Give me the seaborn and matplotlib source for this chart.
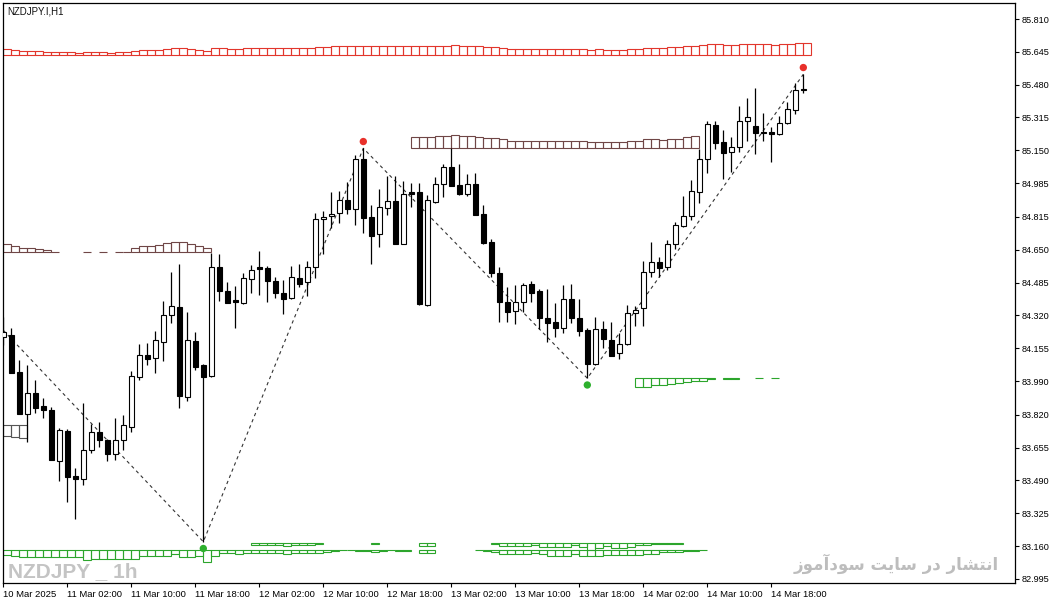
import numpy as np
import matplotlib
matplotlib.use("Agg")
import matplotlib.pyplot as plt
from matplotlib.patches import Rectangle
import seaborn as sns

# NZDJPY H1 candles, 10 Mar 18:00 .. 14 Mar 22:00
opens = [84.212, 84.222, 84.034, 83.826, 83.929, 83.865, 83.845, 83.590, 83.741, 83.513,
         83.499, 83.643, 83.732, 83.694, 83.625, 83.694, 83.761, 84.012, 84.121, 84.104,
         84.188, 84.322, 84.364, 83.911, 84.191, 84.071, 84.015, 84.565, 84.443, 84.398,
         84.384, 84.505, 84.565, 84.558, 84.493, 84.433, 84.409, 84.508, 84.486, 84.562,
         84.803, 84.818, 84.833, 84.900, 84.853, 85.105, 84.813, 84.728, 84.861, 84.895,
         84.680, 84.940, 84.940, 84.371, 84.892, 84.979, 85.065, 84.976, 84.929, 84.981,
         84.830, 84.689, 84.532, 84.386, 84.344, 84.386, 84.478, 84.443, 84.306, 84.287,
         84.255, 84.401, 84.306, 84.247, 84.076, 84.250, 84.196, 84.130, 84.175, 84.331,
         84.356, 84.537, 84.587, 84.562, 84.678, 84.771, 84.821, 84.942, 85.105, 85.277,
         85.190, 85.140, 85.165, 85.297, 85.272, 85.242, 85.242, 85.230, 85.286, 85.351,
         85.457]
highs = [84.314, 84.255, 84.096, 84.071, 83.995, 83.903, 83.858, 83.753, 83.749, 83.551,
         83.878, 83.774, 83.786, 83.699, 83.803, 83.819, 84.041, 84.176, 84.180, 84.243,
         84.392, 84.537, 84.578, 84.339, 84.238, 84.076, 84.632, 84.629, 84.488, 84.468,
         84.532, 84.573, 84.644, 84.570, 84.515, 84.498, 84.570, 84.578, 84.594, 84.833,
         84.846, 84.942, 84.945, 84.989, 85.126, 85.160, 84.873, 84.954, 85.021, 85.021,
         84.996, 84.987, 84.984, 84.925, 85.017, 85.080, 85.160, 85.081, 85.029, 85.034,
         84.875, 84.703, 84.562, 84.461, 84.473, 84.481, 84.493, 84.453, 84.453, 84.384,
         84.473, 84.478, 84.402, 84.258, 84.310, 84.292, 84.285, 84.230, 84.372, 84.369,
         84.594, 84.688, 84.614, 84.699, 84.791, 84.922, 85.001, 85.155, 85.297, 85.297,
         85.252, 85.218, 85.373, 85.414, 85.465, 85.336, 85.269, 85.322, 85.391, 85.487,
         85.532]
lows = [84.171, 84.030, 83.822, 83.685, 83.831, 83.806, 83.591, 83.489, 83.384, 83.298,
        83.468, 83.630, 83.657, 83.590, 83.593, 83.643, 83.735, 83.995, 84.071, 84.029,
        84.092, 84.280, 83.853, 83.891, 84.046, 83.182, 84.009, 84.394, 84.381, 84.258,
        84.377, 84.434, 84.423, 84.389, 84.406, 84.326, 84.401, 84.464, 84.419, 84.507,
        84.629, 84.758, 84.786, 84.830, 84.775, 84.736, 84.580, 84.665, 84.825, 84.679,
        84.677, 84.866, 84.373, 84.368, 84.887, 84.917, 84.970, 84.926, 84.922, 84.824,
        84.677, 84.515, 84.288, 84.288, 84.275, 84.339, 84.389, 84.250, 84.185, 84.210,
        84.230, 84.283, 84.216, 84.004, 84.071, 84.155, 84.115, 84.101, 84.169, 84.268,
        84.268, 84.515, 84.515, 84.548, 84.654, 84.766, 84.800, 84.887, 85.037, 85.155,
        85.004, 85.042, 85.143, 85.198, 85.131, 85.198, 85.093, 85.228, 85.283, 85.331,
        85.437]
closes = [84.237, 84.032, 83.826, 83.929, 83.853, 83.845, 83.593, 83.744, 83.509, 83.499,
          83.643, 83.732, 83.694, 83.625, 83.694, 83.769, 84.015, 84.121, 84.102, 84.196,
          84.322, 84.367, 83.915, 84.196, 84.062, 84.009, 84.565, 84.443, 84.384, 84.387,
          84.508, 84.547, 84.555, 84.494, 84.434, 84.404, 84.513, 84.479, 84.563, 84.803,
          84.813, 84.830, 84.900, 84.856, 85.105, 84.811, 84.721, 84.863, 84.895, 84.680,
          84.929, 84.932, 84.376, 84.899, 84.979, 85.065, 84.972, 84.929, 84.981, 84.826,
          84.686, 84.532, 84.389, 84.339, 84.386, 84.473, 84.434, 84.309, 84.283, 84.258,
          84.401, 84.306, 84.243, 84.076, 84.250, 84.200, 84.117, 84.175, 84.331, 84.346,
          84.537, 84.587, 84.560, 84.678, 84.775, 84.818, 84.945, 85.105, 85.282, 85.188,
          85.138, 85.165, 85.297, 85.317, 85.238, 85.239, 85.230, 85.286, 85.358, 85.452,
          85.452]

x_labels = ["10 Mar 2025", "11 Mar 02:00", "11 Mar 10:00", "11 Mar 18:00", "12 Mar 02:00",
            "12 Mar 10:00", "12 Mar 18:00", "13 Mar 02:00", "13 Mar 10:00", "13 Mar 18:00",
            "14 Mar 02:00", "14 Mar 10:00", "14 Mar 18:00"]
y_labels = ["85.810", "85.645", "85.480", "85.315", "85.150", "84.985", "84.815", "84.650",
            "84.485", "84.320", "84.155", "83.990", "83.820", "83.655", "83.490", "83.325",
            "83.160", "82.995"]

# zigzag
zz_idx = [0, 25, 45, 73, 100]
zz_price = [84.245, 83.182, 85.160, 84.004, 85.532]
tops_idx, tops_price = [45, 100], [85.160, 85.532]
bots_idx, bots_price = [25, 73], [83.182, 84.004]

# level profiles: counts per hour slot (None = empty, 0 = bare line)
red_start, red_base = 0, 85.629
red_counts = [5.7, 5, 4, 4, 4, 3, 3, 3, 3, 2, 3, 3, 3, 2, 3, 3, 4, 5, 5, 5,
              6, 7, 7, 6, 5, 4, 7, 7, 6, 6, 7, 7, 7, 7, 7, 7, 7, 7, 7, 8,
              8, 9, 9, 9, 9, 9, 9, 9, 9, 9, 9, 9, 9, 9, 9, 9, 10, 9, 9, 9,
              8, 8, 7, 5.7, 5.7, 5.7, 5.7, 5.7, 5.7, 5.7, 5.7, 5.7, 5.7, 4.7, 5.7, 4.7, 4.7, 4.7, 5.7, 5.7,
              6.7, 6.7, 6.7, 8, 8, 9, 9, 10, 10.7, 10.7, 10, 10, 10.7, 10.7, 10.7, 10.7, 10, 10.7, 10.7, 11.7,
              11.7]
brown_l_start, brown_l_base = 0, 84.637
brown_l_counts = [8, 6.7, 4, 4, 3, 2, 0.7, None, None, None, 0.7, None, 0, None, 0, 0,
                  4, 6, 6, 7, 9, 10.7, 10.7, 8, 6, 4]
gray_start, gray_base = 0, 83.769
gray_counts = [10.7, 11.7, 13.3]
brown_t_start, brown_t_base = 51, 85.160
brown_t_counts = [11.6, 11.6, 11, 12, 12.3, 13.3, 12.3, 12.3, 11.6, 10.6, 10, 9,
                  7.6, 7.6, 7.6, 7.6, 7.6, 7.6, 7.6, 7.6, 7.6, 7.6,
                  6.6, 6.6, 6.6, 6.6, 6.6, 7.6, 7.6, 9, 9, 8.3, 9.6, 9.6, 11, 12.3]
green_m_start, green_m_base = 79, 84.004
green_m_counts = [9, 9, 7, 6.7, 5.7, 4.7, 3.4, 2.7, 2.7, 0.7, None, 0.7, 0.7, None, None, 0, None, 0]
green_lo_start, green_lo_base = 0, 83.138
green_lo_counts = [4.6, 6, 7, 7, 7, 7, 7, 7, 7, 7, 9.6, 8.6, 8.6, 8.6, 8.6, 8.6, 8.6,
                   5.3, 5.3, 5.3, 5.3, 3.3, 6.6, 6.6, 5.3, 11.6, 6, 2.6, 2.6, 3.6,
                   2.6, 2.6, 2.6, 2.6, 2.6, 3.6, 2.6, 2.6, 2.6, 2.6, 1.6, 0.7, 0, 0,
                   0.7, 0.7, 2, 0.7, 0, 0.7, 0.7, None, 3, 3, None, None, None, None, None,
                   0, 0.7, 2, 4, 4, 4, 4, 2.6, 4, 5.3, 5.3, 5.3, 4, 5.3, 6, 6,
                   4.6, 4.6, 4.6, 4.6, 4.6, 4, 4, 2, 2, 2, 0.7, 0.7, 0]
green_up_start, green_up_base = 31, 83.176
green_up_counts = [2.3, 2.3, 2.3, 2.3, 3.3, 2.3, 2.3, 2.3, 0.7,
                   None, None, None, None, None, None, 0.7, None, None, None, None, None,
                   3.3, 3.3, None, None, None, None, None, None, None, 0.7,
                   3.3, 3.3, 3.3, 3.3, 1.6, 4, 4, 4, 4, 2.3, 4, 6.6, 5, 3.3, 5, 5, 4,
                   2.3, 2.3, 0.7, 0.7, 0.7, 0.7]

UNIT = 0.0050268  # price per profile count

sns.set_theme(style="white")
plt.rcParams['font.family'] = ['Liberation Sans', 'DejaVu Sans']

fig = plt.figure(figsize=(10.56, 6.04), dpi=100)
ax = fig.add_axes([0.00256, 0.03526, 0.95862, 0.96026])


def draw_profile(start, base, counts, color, up=True):
    for j, c in enumerate(counts):
        if c is None:
            continue
        x0 = start + j
        if c == 0:
            ax.hlines(base, x0, x0 + 1, color=color, lw=0.8, zorder=2)
            continue
        h = c * UNIT
        bottom = base if up else base - h
        ax.add_patch(Rectangle((x0, bottom), 1, h, fill=False, edgecolor=color,
                               lw=0.8, zorder=2))


draw_profile(red_start, red_base, red_counts, '#e2362c')
draw_profile(brown_l_start, brown_l_base, brown_l_counts, '#6f4646')
draw_profile(gray_start, gray_base, gray_counts, '#555555', up=False)
draw_profile(brown_t_start, brown_t_base, brown_t_counts, '#6f4646')
draw_profile(green_m_start, green_m_base, green_m_counts, '#2ca52c', up=False)
draw_profile(green_lo_start, green_lo_base, green_lo_counts, '#2ca52c', up=False)
draw_profile(green_up_start, green_up_base, green_up_counts, '#2ca52c', up=False)

# zigzag
sns.lineplot(x=zz_idx, y=zz_price, ax=ax, color='#333333', lw=0.8,
             linestyle=(0, (3, 3)), estimator=None, sort=False, zorder=3)

# candles
o = np.array(opens)
c = np.array(closes)
xs = np.arange(len(o))
ax.vlines(xs, lows, highs, color='black', lw=0.9, zorder=4)
body_lo = np.minimum(o, c)
body_h = np.maximum(np.abs(c - o), UNIT * 0.6)
faces = ['black' if cc < oo else 'white' for oo, cc in zip(o, c)]
ax.bar(xs, body_h, bottom=body_lo, width=0.55, color=faces, edgecolor='black',
       lw=0.8, zorder=5)

# pivot dots
DOT_GAP = 0.034
sns.scatterplot(x=tops_idx, y=np.array(tops_price) + DOT_GAP, ax=ax, color='#e8302a',
                s=28, edgecolor='none', zorder=6)
sns.scatterplot(x=bots_idx, y=np.array(bots_price) - DOT_GAP, ax=ax, color='#2db02d',
                s=28, edgecolor='none', zorder=6)

ax.set_xlim(-0.075, 126.46)
ax.set_ylim(82.976, 85.892)

ax.set_xticks(np.arange(len(x_labels)) * 8)
ax.set_xticklabels(x_labels, fontsize=6.8, ha='left')
ax.yaxis.tick_right()
ax.set_yticks([float(v) for v in y_labels])
ax.set_yticklabels(y_labels, fontsize=6.6)
ax.tick_params(axis='x', direction='out', length=3, width=0.8, pad=2, colors='black',
               bottom=True)
ax.tick_params(axis='y', direction='out', length=3, width=0.8, pad=2, colors='black',
               right=True, left=False)
for sp in ax.spines.values():
    sp.set_color('black')
    sp.set_linewidth(0.9)
ax.set_xlabel('')
ax.set_ylabel('')

ax.text(0.0045, 0.985, "NZDJPY.I,H1", transform=ax.transAxes, fontsize=7,
        va='center', ha='left', color='#111111')
ax.text(0.0052, 0.0098, "NZDJPY _ 1h", transform=ax.transAxes, fontsize=15,
        fontweight='bold', fontstretch='condensed',
        family=['Liberation Sans Narrow', 'Liberation Sans', 'DejaVu Sans'],
        color='#c4c4c4', va='baseline', ha='left', zorder=1)
# Persian note, glyphs in visual order: "انتشار در سایت سودآموز"
fa_text = ("\ufeaf\ufeee\ufee3\ufe81\ufea9\ufeee\ufeb3 \ufe96\ufef3\ufe8e\ufeb3 "
           "\ufead\ufea9 \ufead\ufe8e\ufeb8\ufe98\ufee7\ufe8d")
ax.text(0.984, 0.022, fa_text, transform=ax.transAxes, fontsize=12,
        family=['DejaVu Sans'], fontweight='bold', color='#bdbdbd',
        va='baseline', ha='right', zorder=1)

fig.savefig("out.png", dpi=100)
